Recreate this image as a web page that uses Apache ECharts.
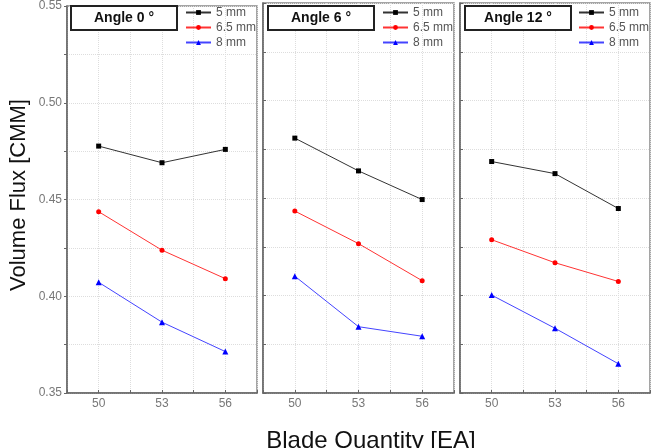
<!DOCTYPE html>
<html>
<head>
<meta charset="utf-8">
<script src="https://cdn.jsdelivr.net/npm/echarts@6/dist/echarts.min.js"></script>
<style>
html,body{margin:0;padding:0;background:#fff;}
#chart{width:659px;height:448px;}
</style>
</head>
<body>
<div id="chart"></div>
<script>
// ---- data ----
const bladeQty = [50, 53, 56];
const seriesNames = ['5 mm', '6.5 mm', '8 mm'];
const panelTitles = ['Angle 0 °', 'Angle 6 °', 'Angle 12 °'];
// Angle 0
const a0_5mm  = [0.4776, 0.4690, 0.4759];
const a0_65mm = [0.4437, 0.4238, 0.4091];
const a0_8mm  = [0.4072, 0.3866, 0.3714];
// Angle 6
const a6_5mm  = [0.4807, 0.4639, 0.4492];
const a6_65mm = [0.4433, 0.4266, 0.4076];
const a6_8mm  = [0.4099, 0.3840, 0.3791];
// Angle 12
const a12_5mm  = [0.4687, 0.4625, 0.4446];
const a12_65mm = [0.4286, 0.4168, 0.4072];
const a12_8mm  = [0.4002, 0.3832, 0.3650];
const yTickLabels = [0.35, 0.40, 0.45, 0.50, 0.55];
const xTickValues = [48.5, 50, 51.5, 53, 54.5, 56, 57.5];

const panels = [
  [a0_5mm, a0_65mm, a0_8mm],
  [a6_5mm, a6_65mm, a6_8mm],
  [a12_5mm, a12_65mm, a12_8mm]
];

const FONT = 'Liberation Sans, Arial, sans-serif';
const gridLeft = [67, 263, 460];
const gridWidth = [190, 191, 190];
const legendLeft = [185, 382, 578];
const boxLeft = [71, 268, 465];

const styles = [
  {symbol: 'rect', symbolSize: 5, color: '#000', line: '#333'},
  {symbol: 'circle', symbolSize: 5, color: '#f00', line: '#f33'},
  {symbol: 'triangle', symbolSize: 6, color: '#00f', line: '#44f'}
];

const grids = [], xAxes = [], yAxes = [], series = [], legends = [], graphics = [];
for (let p = 0; p < 3; p++) {
  grids.push({left: gridLeft[p], top: 3, width: gridWidth[p], height: 390,
    show: true, borderColor: '#888', borderWidth: 1.5, backgroundColor: '#fff'});
  xAxes.push({
    type: 'value', gridIndex: p, min: 48.5, max: 57.5,
    axisLine: {lineStyle: {color: '#666', width: 1.5}},
    axisTick: {inside: true, length: 3, customValues: xTickValues, lineStyle: {color: '#666'}},
    axisLabel: {customValues: bladeQty, color: '#777', fontSize: 12, fontFamily: FONT, margin: 5},
    splitLine: {show: true, lineStyle: {type: 'dotted', color: '#ddd'}}
  });
  yAxes.push({
    type: 'value', gridIndex: p, min: 0.35, max: 0.55, interval: 0.025,
    axisLine: {show: true, lineStyle: {color: '#666', width: 1.5}},
    axisTick: {show: true, length: 3, inside: p > 0, lineStyle: {color: '#666'}},
    axisLabel: {show: p === 0, customValues: yTickLabels, color: '#777', fontSize: 12,
      fontFamily: FONT, margin: 5, formatter: v => v.toFixed(2)},
    splitLine: {show: true, lineStyle: {type: 'dotted', color: '#ddd'}}
  });
  for (let s = 0; s < 3; s++) {
    const st = styles[s];
    series.push({
      type: 'line', name: seriesNames[s], xAxisIndex: p, yAxisIndex: p,
      data: bladeQty.map((q, i) => [q, panels[p][s][i]]),
      symbol: st.symbol, symbolSize: st.symbolSize,
      itemStyle: {color: st.color},
      lineStyle: {color: st.line, width: 1},
      emphasis: {disabled: true}
    });
  }
  legends.push({
    left: legendLeft[p], top: 6, orient: 'vertical', padding: 0,
    itemWidth: 25, itemHeight: 6, itemGap: 2,
    data: seriesNames,
    textStyle: {fontSize: 12, color: '#555', fontFamily: FONT, lineHeight: 13}
  });
  graphics.push({
    type: 'rect', shape: {x: boxLeft[p], y: 6, width: 106, height: 24},
    style: {fill: '#fff', stroke: '#222', lineWidth: 2}, z: 100
  });
  graphics.push({
    type: 'text', x: boxLeft[p] + 53, y: 18, z: 101,
    style: {text: panelTitles[p], fill: '#111', font: 'bold 14px ' + FONT,
      textAlign: 'center', textVerticalAlign: 'middle'}
  });
}
graphics.push({
  type: 'text', x: 19, y: 195, rotation: Math.PI / 2,
  style: {text: 'Volume Flux [CMM]', fill: '#111', font: '22px ' + FONT,
    textAlign: 'center', textVerticalAlign: 'middle'}
});
graphics.push({
  type: 'text', x: 371, y: 429,
  style: {text: 'Blade Quantity [EA]', fill: '#111', font: '24px ' + FONT,
    textAlign: 'center', textVerticalAlign: 'top'}
});

const chart = echarts.init(document.getElementById('chart'));
chart.setOption({
  animation: false,
  backgroundColor: '#fff',
  grid: grids, xAxis: xAxes, yAxis: yAxes,
  legend: legends, series: series, graphic: graphics
});
</script>
</body>
</html>
